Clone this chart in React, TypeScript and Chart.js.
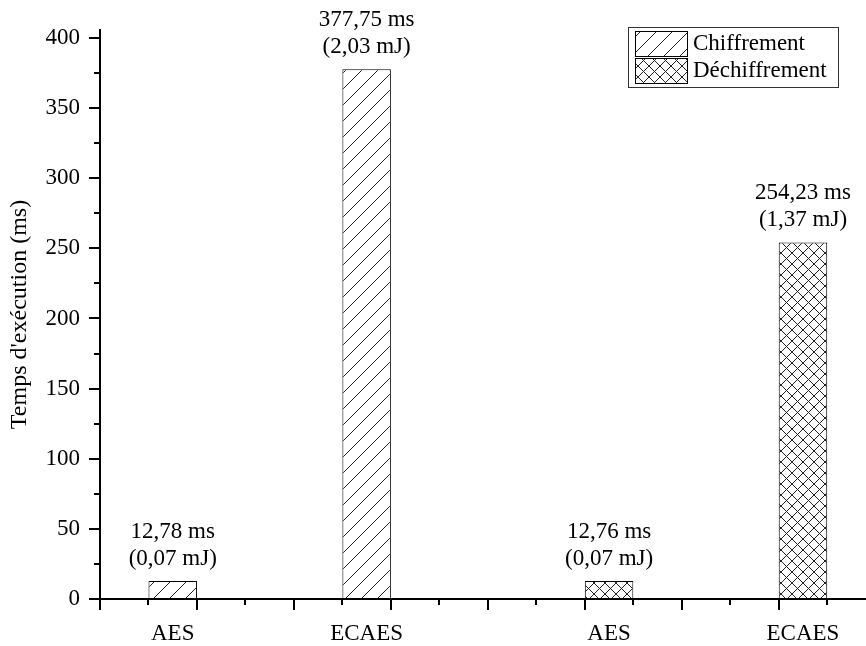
import React, { useEffect, useRef } from 'react';
import { Chart, registerables } from 'chart.js';

Chart.register(...registerables);

// ---- data ----
const categories = ['AES', 'ECAES', 'AES', 'ECAES'];
const categoryPositions = [1.5, 5.5, 10.5, 14.5];
const seriesNames = ['Chiffrement', 'Déchiffrement'];
const chiffrementIdx = [0, 1];
const dechiffrementIdx = [2, 3];
const chiffrementTimes = [12.78, 377.75];
const chiffrementEnergy = [0.07, 2.03];
const dechiffrementTimes = [12.76, 254.23];
const dechiffrementEnergy = [0.07, 1.37];
const yAxisTitle = "Temps d'exécution (ms)";

const FONT = '"Liberation Serif", "Times New Roman", serif';
const FS = 23;

function fmt(v: number) {
  return v.toFixed(2).replace('.', ',');
}

function makeHatch(kind: 'diag' | 'cross'): CanvasPattern {
  const size = kind === 'diag' ? 16 : 11;
  const c = document.createElement('canvas');
  c.width = size;
  c.height = size;
  const g = c.getContext('2d')!;
  g.fillStyle = '#ffffff';
  g.fillRect(0, 0, size, size);
  g.strokeStyle = '#222222';
  g.lineWidth = 1;
  g.beginPath();
  g.moveTo(-2, size + 2);
  g.lineTo(size + 2, -2);
  if (kind === 'cross') {
    g.moveTo(-2, -2);
    g.lineTo(size + 2, size + 2);
  }
  g.stroke();
  return g.createPattern(c, 'repeat')!;
}

const decorPlugin = {
  id: 'decor',
  afterDatasetsDraw(chart: any) {
    const ctx = chart.ctx;
    ctx.save();
    ctx.font = `${FS}px ${FONT}`;
    ctx.fillStyle = '#000';
    ctx.textAlign = 'center';
    ctx.textBaseline = 'middle';
    chart.data.datasets.forEach((ds: any, di: number) => {
      const meta = chart.getDatasetMeta(di);
      meta.data.forEach((bar: any, i: number) => {
        const t = ds.data[i].y;
        const e = ds.energy[i];
        ctx.fillText(`${fmt(t)} ms`, bar.x, bar.y - 49);
        ctx.fillText(`(${fmt(e)} mJ)`, bar.x, bar.y - 22);
      });
    });
    ctx.restore();
  },
  afterDraw(chart: any) {
    const ctx = chart.ctx;
    const xs = chart.scales.x;
    const ys = chart.scales.y;
    const area = chart.chartArea;
    ctx.save();
    ctx.strokeStyle = '#000';
    ctx.lineWidth = 2;
    // x tick marks
    for (let v = 0; v <= Math.floor(xs.max); v++) {
      const px = Math.round(xs.getPixelForValue(v));
      const len = v % 2 === 0 ? 11 : 6;
      ctx.beginPath();
      ctx.moveTo(px, area.bottom);
      ctx.lineTo(px, area.bottom + len);
      ctx.stroke();
    }
    // y tick marks
    for (let v = 0; v <= ys.max; v += 25) {
      const py = Math.round(ys.getPixelForValue(v));
      const len = v % 50 === 0 ? 11 : 6;
      ctx.beginPath();
      ctx.moveTo(area.left, py);
      ctx.lineTo(area.left - len, py);
      ctx.stroke();
    }
    // legend
    const lx = area.right - 238;
    const ly = area.top - 3;
    ctx.lineWidth = 1;
    ctx.strokeStyle = '#333';
    ctx.strokeRect(lx + 0.5, ly + 0.5, 210, 60);
    ctx.font = `${FS}px ${FONT}`;
    ctx.textAlign = 'left';
    ctx.textBaseline = 'middle';
    ctx.fillStyle = '#000';
    chart.data.datasets.forEach((ds: any, di: number) => {
      const by = ly + 4 + di * 27;
      ctx.fillStyle = ds.backgroundColor;
      ctx.fillRect(lx + 7, by, 52, 25);
      ctx.strokeStyle = '#000';
      ctx.strokeRect(lx + 7.5, by + 0.5, 52, 25);
      ctx.fillStyle = '#000';
      ctx.fillText(ds.label, lx + 65, by + 13);
    });
    ctx.restore();
  },
};

export default function App() {
  const ref = useRef<HTMLCanvasElement>(null);
  useEffect(() => {
    const canvas = ref.current!;
    const diag = makeHatch('diag');
    const cross = makeHatch('cross');
    const chart = new Chart(canvas, {
      type: 'bar',
      data: {
        datasets: [
          {
            label: seriesNames[0],
            data: chiffrementIdx.map((k, i) => ({ x: categoryPositions[k], y: chiffrementTimes[i] })),
            energy: chiffrementEnergy,
            backgroundColor: diag,
            borderColor: '#000',
            borderWidth: 1,
            borderSkipped: false,
            grouped: false,
            barPercentage: 1,
            categoryPercentage: 0.25,
          } as any,
          {
            label: seriesNames[1],
            data: dechiffrementIdx.map((k, i) => ({ x: categoryPositions[k], y: dechiffrementTimes[i] })),
            energy: dechiffrementEnergy,
            backgroundColor: cross,
            borderColor: '#000',
            borderWidth: 1,
            borderSkipped: false,
            grouped: false,
            barPercentage: 1,
            categoryPercentage: 0.25,
          } as any,
        ],
      },
      options: {
        animation: false,
        responsive: false,
        devicePixelRatio: 1,
        layout: { padding: { top: 30, left: 0, right: 0, bottom: 0 } },
        plugins: {
          legend: { display: false },
          tooltip: { enabled: false },
        },
        scales: {
          x: {
            type: 'linear',
            min: 0,
            max: 15.8,
            offset: false,
            grid: { display: false, drawTicks: false, offset: false },
            border: { display: true, color: '#000', width: 2 },
            afterBuildTicks: (scale: any) => {
              scale.ticks = categoryPositions.map((v) => ({ value: v }));
            },
            afterFit: (scale: any) => {
              scale.height = 47;
              scale.paddingLeft = 0;
              scale.paddingRight = 0;
            },
            ticks: {
              autoSkip: false,
              maxRotation: 0,
              padding: 21,
              color: '#000',
              font: { family: FONT, size: FS },
              callback: (_v: any, i: number) => categories[i],
            },
          },
          y: {
            type: 'linear',
            min: 0,
            max: 405.7,
            grid: { display: false, drawTicks: false },
            border: { display: true, color: '#000', width: 2 },
            afterFit: (scale: any) => {
              scale.width = 100;
              scale.paddingTop = 0;
              scale.paddingBottom = 0;
            },
            ticks: {
              stepSize: 50,
              includeBounds: false,
              padding: 20,
              color: '#000',
              font: { family: FONT, size: FS },
            },
            title: {
              display: true,
              text: yAxisTitle,
              color: '#000',
              font: { family: FONT, size: 24 },
              padding: { top: 5, bottom: 0 },
            },
          },
        },
      } as any,
      plugins: [decorPlugin],
    });
    return () => chart.destroy();
  }, []);
  return (
    <div style={{ position: 'absolute', left: 0, top: 0, width: 866, height: 646, background: '#fff' }}>
      <canvas ref={ref} width={866} height={646} style={{ display: 'block', width: 866, height: 646 }} />
    </div>
  );
}
